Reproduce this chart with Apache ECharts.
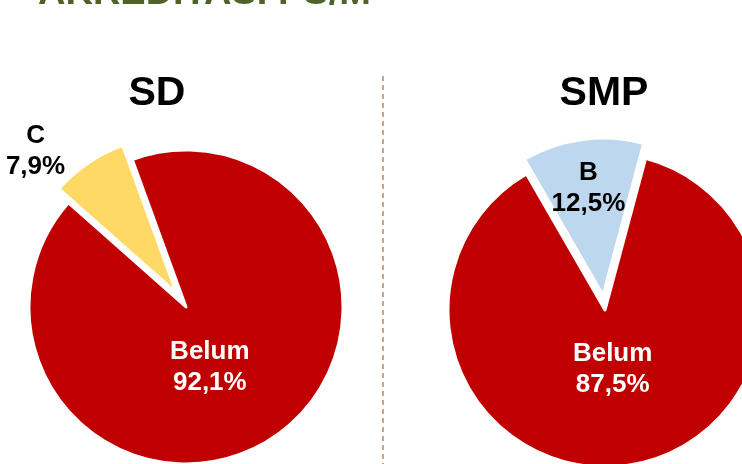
<!DOCTYPE html>
<html>
<head>
<meta charset="utf-8">
<script src="https://cdn.jsdelivr.net/npm/echarts@6/dist/echarts.min.js"></script>
<style>
  html, body { margin: 0; padding: 0; background: #fff; }
  #chart { width: 742px; height: 464px; }
</style>
</head>
<body>
<div id="chart"></div>
<script>
// data
const pageTitle = 'AKREDITASI PS/M';
const groupTitles = ['SD', 'SMP'];
const sdNames = ['Belum', 'C'];
const sdValues = [92.1, 7.9];
const sdColors = ['#C00000', '#FFD966'];
const smpNames = ['Belum', 'B'];
const smpValues = [87.5, 12.5];
const smpColors = ['#C00000', '#BDD7EE'];

const chart = echarts.init(document.getElementById('chart'));

function pct(v) {
  return v.toFixed(1).replace('.', ',') + '%';
}

function makeData(names, values, colors, outsideIdx) {
  return names.map(function (n, i) {
    return {
      name: n,
      value: values[i],
      selected: i > 0, // small slice is pulled out
      itemStyle: { color: colors[i] },
      label: {
        position: i === outsideIdx ? 'outside' : 'inside',
        color: i === 0 ? '#fff' : '#000'
      }
    };
  });
}

const labelFont = {
  fontFamily: 'Liberation Sans, Arial, sans-serif',
  fontWeight: 'bold',
  fontSize: 26,
  lineHeight: 31
};

const headFont = { fontFamily: 'Liberation Sans, Arial, sans-serif', fontWeight: 'bold', fontSize: 41, color: '#000' };

const option = {
  backgroundColor: '#fff',
  animation: false,
  title: [
    {
      text: pageTitle,
      left: 33,
      top: -30,
      textStyle: { fontFamily: 'Liberation Sans, Arial, sans-serif', fontWeight: 'bold', fontSize: 38, color: '#4F6228' }
    },
    { text: groupTitles[0], left: 152, top: 68, textAlign: 'center', textStyle: headFont },
    { text: groupTitles[1], left: 599, top: 68, textAlign: 'center', textStyle: headFont }
  ],
  graphic: [
    {
      type: 'line',
      shape: { x1: 383, y1: 76, x2: 383, y2: 464 },
      style: { stroke: '#B9865E', lineWidth: 1.5, lineDash: [5, 4] }
    }
  ],
  series: [
    {
      type: 'pie',
      center: [186, 307],
      radius: 157,
      startAngle: 110,
      selectedMode: 'single',
      selectedOffset: 17,
      itemStyle: { borderColor: '#fff', borderWidth: 3 },
      label: Object.assign({
        show: true,
        formatter: function (p) { return p.name + '\n' + pct(p.value); }
      }, labelFont),
      labelLine: { show: false, length: 10, length2: 0 },
      labelLayout: function (p) {
        if (p.dataIndex === 0) return { dx: -22, dy: -7 };
        return { dx: -42, dy: -4, align: 'center' };
      },
      emphasis: { disabled: true },
      data: makeData(sdNames, sdValues, sdColors, 1)
    },
    {
      type: 'pie',
      center: [605, 310],
      radius: 157,
      startAngle: 75,
      selectedMode: 'single',
      selectedOffset: 15,
      itemStyle: { borderColor: '#fff', borderWidth: 3 },
      label: Object.assign({
        show: true,
        formatter: function (p) { return p.name + '\n' + pct(p.value); }
      }, labelFont),
      labelLine: { show: false },
      labelLayout: function (p) {
        if (p.dataIndex === 0) return { dx: -3, dy: -21 };
        return { dx: -4, dy: -26 };
      },
      emphasis: { disabled: true },
      data: makeData(smpNames, smpValues, smpColors, -1)
    }
  ]
};

chart.setOption(option);
</script>
</body>
</html>
